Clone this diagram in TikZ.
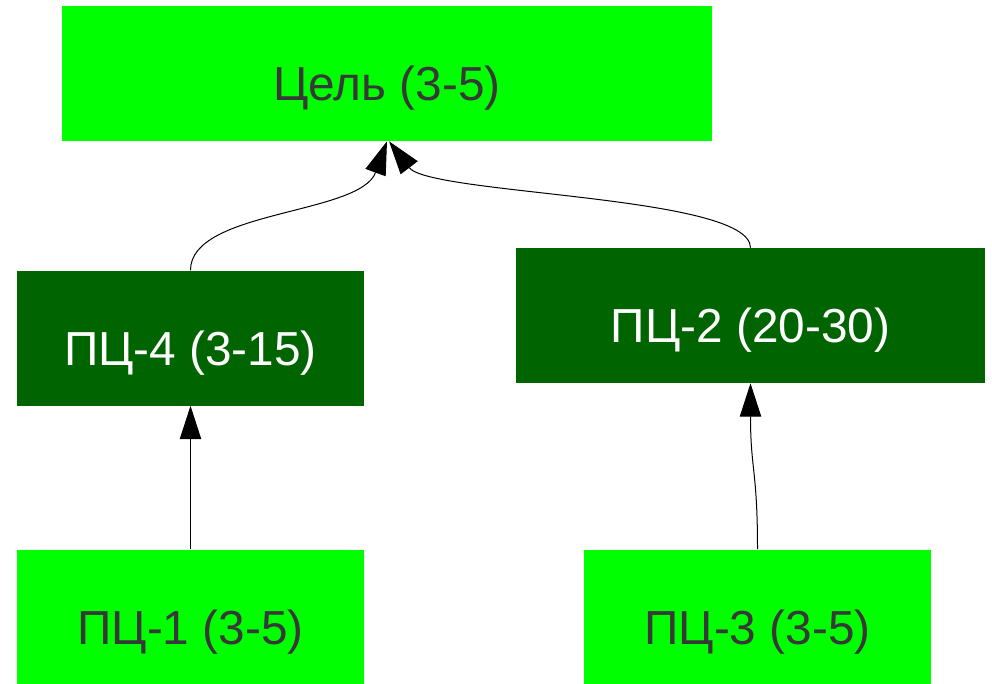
\documentclass[tikz,border=0pt]{standalone}
\usepackage{fontspec}
\setmainfont{Liberation Sans}
\usetikzlibrary{arrows.meta}
\definecolor{lightgoal}{HTML}{00FF00}
\definecolor{darkgoal}{HTML}{006400}
\definecolor{labelgray}{HTML}{383838}
\newcommand{\lowtext}[1]{\raisebox{-20.5pt}[0pt][0pt]{#1}}

\begin{document}
\begin{tikzpicture}[x=0.75pt, y=-0.75pt, >={Triangle[length=25pt, width=16pt]},
  box/.style={inner sep=0pt, minimum height=101.25pt, font=\fontsize{35.8}{42}\selectfont},
  light/.style={box, fill=lightgoal, text=labelgray},
  dark/.style={box, fill=darkgoal, text=white},
  link/.style={line width=0.75pt, ->}]
  \useasboundingbox (0,0) rectangle (992,683);
  \node[light, minimum width=487.5pt] (goal) at (387,73.5) {\lowtext{Цель (3-5)}};
  \node[dark, minimum width=260.25pt] (sub4) at (190.5,338) {\lowtext{ПЦ-4 (3-15)}};
  \node[dark, minimum width=351.75pt] (sub2) at (750.5,315.5) {\lowtext{ПЦ-2 (20-30)}};
  \node[light, minimum width=260.25pt] (sub1) at (190.5,617) {\lowtext{ПЦ-1 (3-5)}};
  \node[light, minimum width=260.25pt] (sub3) at (757.5,617) {\lowtext{ПЦ-3 (3-5)}};
  \draw[link] (sub4.north) .. controls (190.5,210) and (360,215) .. (goal.south);
  \draw[link] (sub2.north) .. controls (750.5,195) and (430,195) .. ([xshift=1.5pt]goal.south);
  \draw[link] (sub1.north) -- (sub4.south);
  \draw[link] (sub3.north) .. controls (757.5,470) and (750.5,470) .. (sub2.south);
\end{tikzpicture}
\end{document}
